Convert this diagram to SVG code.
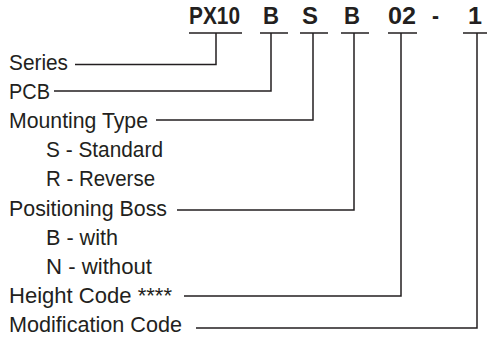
<svg xmlns="http://www.w3.org/2000/svg" width="487" height="341" viewBox="0 0 487 341">
<style>
.t{font-family:"Liberation Sans",Arial,sans-serif;font-size:21.5px;fill:#231f20}
.h{font-family:"Liberation Sans",Arial,sans-serif;font-size:24px;font-weight:bold;fill:#231f20}
.c{fill:none;stroke:#231f20;stroke-width:1.5}
</style>
<rect width="487" height="341" fill="#fff"/>
<g id="code">
<text class="h" x="189" y="23.5" textLength="51" lengthAdjust="spacingAndGlyphs">PX10</text>
<text class="h" x="263" y="23.5" textLength="16" lengthAdjust="spacingAndGlyphs">B</text>
<text class="h" x="302" y="23.5" textLength="16" lengthAdjust="spacingAndGlyphs">S</text>
<text class="h" x="344" y="23.5" textLength="16" lengthAdjust="spacingAndGlyphs">B</text>
<text class="h" x="388" y="23.5" textLength="28" lengthAdjust="spacingAndGlyphs">02</text>
<text class="h" x="432" y="23.5" textLength="7" lengthAdjust="spacingAndGlyphs">-</text>
<text class="h" x="468" y="23.5" textLength="14" lengthAdjust="spacingAndGlyphs">1</text>
</g>
<g id="series"><text class="t" x="9" y="69.5" textLength="59" lengthAdjust="spacingAndGlyphs">Series</text></g>
<g id="pcb"><text class="t" x="9" y="98.5" textLength="41" lengthAdjust="spacingAndGlyphs">PCB</text></g>
<g id="mounting"><text class="t" x="9" y="127.5" textLength="139" lengthAdjust="spacingAndGlyphs">Mounting Type</text>
<text class="t" x="46" y="157" textLength="117" lengthAdjust="spacingAndGlyphs">S - Standard</text>
<text class="t" x="46" y="186" textLength="109" lengthAdjust="spacingAndGlyphs">R - Reverse</text></g>
<g id="boss"><text class="t" x="9" y="215.5" textLength="158" lengthAdjust="spacingAndGlyphs">Positioning Boss</text>
<text class="t" x="46" y="244.5" textLength="72" lengthAdjust="spacingAndGlyphs">B - with</text>
<text class="t" x="46" y="273.5" textLength="106" lengthAdjust="spacingAndGlyphs">N - without</text></g>
<g id="height"><text class="t" x="9" y="302.5" textLength="163" lengthAdjust="spacingAndGlyphs">Height Code ****</text></g>
<g id="modification"><text class="t" x="9" y="332" textLength="173" lengthAdjust="spacingAndGlyphs">Modification Code</text></g>
<g id="connectors">
<path class="c" d="M189 33H242M260 33H288M300 33H328M341 33H369M388 33H417M463 33H487"/>
<path class="c" d="M216 33V64.5H75"/>
<path class="c" d="M271 33V91H54"/>
<path class="c" d="M313 33V120H156"/>
<path class="c" d="M354 33V210H177"/>
<path class="c" d="M401 33V296H184"/>
<path class="c" d="M477 33V328H196"/>
</g>
</svg>
